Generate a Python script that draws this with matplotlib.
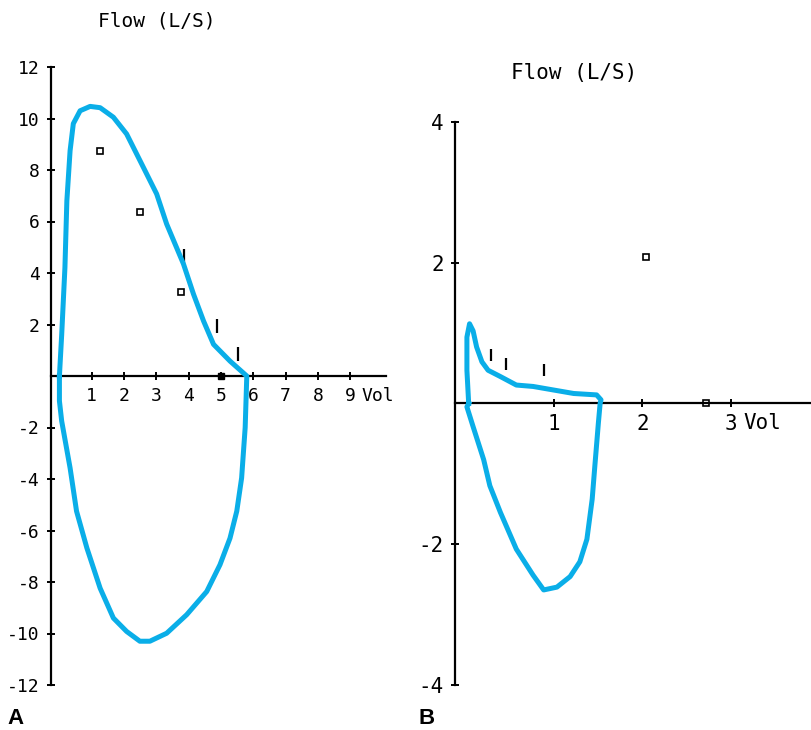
import matplotlib.pyplot as plt

# Panel A: normal flow-volume loop
a_vol = [0.0, 0.07, 0.17, 0.23, 0.33, 0.43, 0.64, 0.95, 1.26, 1.67, 2.08, 2.6, 3.01,
         3.32, 3.84, 4.15, 4.46, 4.77, 5.28, 5.8, 5.75, 5.64, 5.49, 5.28, 4.97,
         4.56, 3.94, 3.32, 2.8, 2.49, 2.08, 1.67, 1.26, 0.85, 0.53, 0.33, 0.07,
         0.0, 0.0]
a_flow = [0.0, 1.6, 4.2, 6.8, 8.75, 9.8, 10.3, 10.47, 10.42, 10.05, 9.4, 8.1, 7.07,
          5.9, 4.35, 3.18, 2.14, 1.23, 0.58, 0.0, -2.0, -3.96, -5.25, -6.3, -7.33,
          -8.37, -9.27, -9.99, -10.3, -10.3, -9.92, -9.4, -8.24, -6.68, -5.25,
          -3.57, -1.75, -0.97, 0.0]
a_sq_vol = [1.26, 2.5, 3.76]
a_sq_flow = [8.75, 6.38, 3.27]
a_bar_vol = [3.86, 4.88, 5.53]
a_bar_flow = [4.67, 1.95, 0.86]
a_xticks = [1, 2, 3, 4, 5, 6, 7, 8, 9]
a_yticks = [-12, -10, -8, -6, -4, -2, 2, 4, 6, 8, 10, 12]

# Panel B: small loop
b_vol = [0.03, 0.01, 0.01, 0.04, 0.08, 0.12, 0.18, 0.25, 0.39, 0.57, 0.76, 0.99,
         1.22, 1.48, 1.53, 1.52, 1.5, 1.46, 1.43, 1.37, 1.29, 1.18, 1.03, 0.88,
         0.76, 0.57, 0.39, 0.27, 0.2, 0.08, 0.01, 0.03]
b_flow = [0.0, 0.47, 0.94, 1.13, 1.03, 0.8, 0.59, 0.47, 0.38, 0.26, 0.24, 0.19,
          0.14, 0.12, 0.05, 0.0, -0.28, -0.89, -1.36, -1.93, -2.25, -2.46, -2.61,
          -2.65, -2.44, -2.07, -1.55, -1.17, -0.8, -0.33, -0.05, 0.0]
b_sq_vol = [2.04]
b_sq_flow = [2.08]
b_bar_vol = [0.28, 0.45, 0.88]
b_bar_flow = [0.68, 0.56, 0.48]
b_xticks = [1, 2, 3]
b_yticks = [-4, -2, 2, 4]

BLUE = '#0aaee8'
MONO = 'DejaVu Sans Mono'

fig = plt.figure(figsize=(8.11, 7.30), dpi=100)


def setup(ax, xlim, ylim, xticks, yticks, fs):
    ax.set_xlim(*xlim)
    ax.set_ylim(*ylim)
    ax.patch.set_alpha(0)
    for s in ['top', 'right']:
        ax.spines[s].set_visible(False)
    ax.spines['bottom'].set_position(('data', 0))
    ax.spines['left'].set_linewidth(1.6)
    ax.spines['bottom'].set_linewidth(1.6)
    ax.set_xticks(xticks)
    ax.set_yticks(yticks)
    ax.set_xticklabels([str(t) for t in xticks], family=MONO, fontsize=fs)
    ax.set_yticklabels([str(t) for t in yticks], family=MONO, fontsize=fs)
    ax.tick_params(direction='inout', length=6, width=1.4, pad=5)


# ---- A ----
axA = fig.add_axes([50.7 / 811, 45 / 730, 335 / 811, 618 / 730])
setup(axA, (-0.27, 10.1), (-12, 12), a_xticks, a_yticks, 13)
axA.plot(a_vol, a_flow, color=BLUE, lw=3.6, solid_joinstyle='round', zorder=3)
axA.plot(a_sq_vol, a_sq_flow, 's', ms=4, mfc='white', mec='black', mew=1.2)
axA.plot([5], [0], 's', ms=5, color='black')
axA.plot(a_bar_vol, a_bar_flow, '|', ms=10, mew=1.6, color='black')
fig.text(361 / 811, 1 - 396 / 730, 'Vol', family=MONO, fontsize=13,
         va='center', ha='left')
fig.text(157 / 811, 1 - 21 / 730, 'Flow (L/S)', family=MONO,
         fontsize=14, ha='center', va='center')
fig.text(15 / 811, 1 - 718 / 730, 'A', fontsize=16, fontweight='bold',
         family='Liberation Sans', ha='center', va='center')

# ---- B ----
axB = fig.add_axes([455 / 811, 45 / 730, 356 / 811, 563.3 / 730])
setup(axB, (-0.125, 3.91), (-4, 4), b_xticks, b_yticks, 15)
axB.plot(b_vol, b_flow, color=BLUE, lw=3.6, solid_joinstyle='round', zorder=3)
axB.plot(b_sq_vol, b_sq_flow, 's', ms=4, mfc='white', mec='black', mew=1.2)
axB.plot([2.72], [0], 's', ms=4, mfc='white', mec='black', mew=1.2)
axB.plot(b_bar_vol, b_bar_flow, '|', ms=8, mew=1.6, color='black')
fig.text(743 / 811, 1 - 423 / 730, 'Vol', family=MONO, fontsize=15,
         va='center', ha='left')
fig.text(574 / 811, 1 - 73 / 730, 'Flow (L/S)', family=MONO,
         fontsize=15, ha='center', va='center')
fig.text(427 / 811, 1 - 718 / 730, 'B', fontsize=16, fontweight='bold',
         family='Liberation Sans', ha='center', va='center')

fig.savefig('out.png', dpi=100)
